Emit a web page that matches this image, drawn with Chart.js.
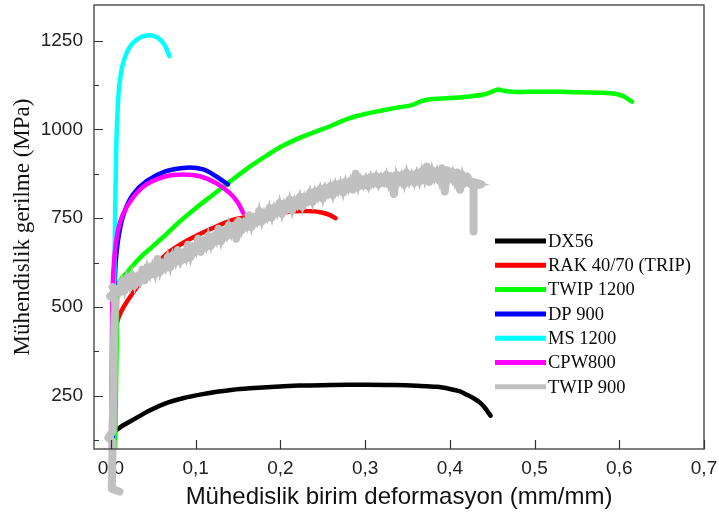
<!DOCTYPE html>
<html><head><meta charset="utf-8">
<script src="https://cdn.jsdelivr.net/npm/chart.js@4/dist/chart.umd.min.js"></script>
<style>html,body{margin:0;padding:0;background:#fff;overflow:hidden}#wrap{width:719px;height:523px;position:relative}</style>
</head><body><div id="wrap"><canvas id="c" width="719" height="523"></canvas></div>
<script>
// ---- data (strain mm/mm, stress MPa) ----
const seriesNames = ['DX56', 'RAK 40/70 (TRIP)', 'TWIP 1200', 'DP 900', 'MS 1200', 'CPW800', 'TWIP 900'];
const xTickValues = [0, 0.1, 0.2, 0.3, 0.4, 0.5, 0.6, 0.7];
const yTickValues = [125, 250, 375, 500, 625, 750, 875, 1000, 1125, 1250];

const dx56 = [[0.002,100],[0.003,125],[0.004,146],[0.012,163],[0.026,182],[0.045,208],[0.066,230],[0.085,243],[0.105,253],[0.125,261],[0.144,267],[0.164,271],[0.184,274],[0.204,277],[0.223,279],[0.26,280],[0.302,281],[0.335,280],[0.361,278],[0.385,275],[0.400,269],[0.412,262],[0.420,253],[0.428,243],[0.436,230],[0.442,214],[0.448,194]];
const rak4070 = [[0.003,100],[0.004,380],[0.006,440],[0.009,470],[0.015,500],[0.026,540],[0.045,600],[0.066,650],[0.085,680],[0.105,705],[0.125,727],[0.144,745],[0.165,755],[0.185,762],[0.205,767],[0.225,770],[0.24,769],[0.25,765],[0.258,759],[0.265,750]];
const twip1200 = [[0.005,100],[0.007,420],[0.009,565],[0.02,600],[0.035,640],[0.05,672],[0.066,706],[0.081,740],[0.1,778],[0.12,815],[0.14,852],[0.16,888],[0.18,920],[0.2,950],[0.22,973],[0.24,992],[0.26,1010],[0.28,1030],[0.3,1043],[0.32,1053],[0.34,1062],[0.355,1068],[0.365,1078],[0.375,1084],[0.4,1088],[0.42,1092],[0.44,1098],[0.45,1106],[0.457,1112],[0.465,1108],[0.48,1105],[0.5,1106],[0.52,1106],[0.54,1105],[0.56,1104],[0.58,1103],[0.595,1100],[0.605,1093],[0.615,1078]];
const dp900 = [[0.002,100],[0.003,400],[0.0043,554],[0.006,639],[0.010,712],[0.016,768],[0.026,816],[0.042,854],[0.065,882],[0.089,892],[0.109,887],[0.124,868],[0.138,845]];
const ms1200 = [[0.001,100],[0.003,450],[0.0043,639],[0.006,920],[0.008,1061],[0.010,1126],[0.014,1183],[0.022,1231],[0.034,1258],[0.046,1265],[0.055,1258],[0.063,1239],[0.069,1206]];
const cpw800 = [[0.000,100],[0.001,350],[0.002,554],[0.004,639],[0.008,712],[0.014,760],[0.026,808],[0.042,845],[0.065,868],[0.085,873],[0.105,868],[0.124,849],[0.140,821],[0.150,793],[0.156,765]];
const twip900 = [[0.000,-10],[0.010,-20],[0.001,-12],[0.002,120],[-0.003,132],[0.002,150],[0.003,300],[0.004,450],[0.005,520],[-0.001,530],[0.006,545],[0.002,556],[0.010,540],
[0.013,570],[0.016,545],[0.019,580],[0.022,558],[0.025,590],[0.028,560],[0.031,585],[0.034,570],[0.037,605],[0.040,575],
[0.043,612],[0.046,590],[0.049,615],[0.052,592],[0.055,635],[0.058,598],[0.061,622],[0.064,608],[0.067,640],[0.070,612],
[0.073,645],[0.076,625],[0.079,660],[0.082,628],[0.085,650],[0.088,635],[0.091,675],[0.094,640],[0.097,668],[0.100,655],
[0.103,692],[0.106,655],[0.109,685],[0.112,668],[0.115,700],[0.118,672],[0.121,698],[0.124,684],[0.127,720],[0.130,685],
[0.133,712],[0.136,698],[0.139,730],[0.142,705],[0.145,725],[0.148,692],[0.151,742],[0.154,715],[0.157,738],[0.160,724],
[0.163,758],[0.166,725],[0.169,750],[0.172,738],[0.175,770],[0.178,740],[0.181,765],[0.184,750],[0.187,778],[0.190,752],
[0.193,780],[0.196,764],[0.199,792],[0.202,762],[0.205,790],[0.208,775],[0.211,802],[0.214,772],[0.217,800],[0.220,785],
[0.223,810],[0.226,782],[0.229,810],[0.232,796],[0.235,822],[0.238,795],[0.241,825],[0.244,808],[0.247,832],[0.250,805],
[0.253,835],[0.256,818],[0.259,840],[0.262,815],[0.265,845],[0.268,826],[0.271,848],[0.274,822],[0.277,852],[0.280,832],
[0.283,855],[0.286,830],[0.289,875],[0.292,838],[0.295,860],[0.298,842],[0.301,862],[0.304,840],[0.307,866],[0.310,848],
[0.313,868],[0.316,845],[0.319,866],[0.322,850],[0.325,872],[0.328,845],[0.331,868],[0.334,818],[0.337,872],[0.340,852],
[0.343,870],[0.346,845],[0.349,878],[0.352,852],[0.355,872],[0.358,850],[0.361,876],[0.364,852],[0.367,882],[0.370,858],
[0.373,895],[0.376,852],[0.379,885],[0.382,862],[0.385,882],[0.388,855],[0.391,890],[0.394,825],[0.397,885],[0.400,862],
[0.403,880],[0.406,852],[0.409,878],[0.412,830],[0.415,872],[0.418,850],[0.421,866],[0.424,846],[0.427,852],[0.437,845],
[0.428,840],[0.428,712]];

const seriesData = [dx56, rak4070, twip1200, dp900, ms1200, cpw800, twip900];
const seriesColors = ['#000000', '#ff0000', '#00ff00', '#0000ff', '#00ffff', '#ff00ff', '#c0c0c0'];

// ---- chart ----
const toXY = arr => arr.map(p => ({x: p[0], y: p[1]}));
const datasets = seriesNames.map((name, i) => {
  const jag = (i === 6);
  return {
    label: name,
    data: toXY(seriesData[i]),
    borderColor: seriesColors[i],
    backgroundColor: seriesColors[i],
    borderWidth: jag ? 4.5 : 4.5,
    tension: jag ? 0 : 0.3,
    showLine: true,
    pointRadius: 0,
    pointHoverRadius: 0,
    fill: false,
    borderJoinStyle: jag ? 'miter' : 'round',
    borderCapStyle: jag ? 'butt' : 'round',
    order: seriesNames.length - i,
    clip: jag ? false : 0
  };
});
// solid core of the noisy TWIP 900 band (same data, drawn thicker with round joins)
datasets.push({
  label: 'TWIP 900 core',
  data: toXY(twip900),
  borderColor: seriesColors[6],
  borderWidth: 8,
  tension: 0,
  showLine: true,
  pointRadius: 0,
  pointHoverRadius: 0,
  fill: false,
  borderJoinStyle: 'round',
  borderCapStyle: 'butt',
  order: 0,
  clip: false
});

const noPad = s => { s.paddingTop = 0; s.paddingBottom = 0; s.paddingLeft = 0; s.paddingRight = 0; };

const framePlugin = {
  id: 'frame',
  beforeDatasetDraw(chart, args) {
    if (args.index === 6) { chart.ctx.save(); chart.ctx.miterLimit = 4.5; }
  },
  afterDatasetDraw(chart, args) {
    if (args.index === 6) { chart.ctx.restore(); }
  },
  afterDatasetsDraw(chart) {
    const {ctx, chartArea: a, scales} = chart;
    ctx.save();
    ctx.strokeStyle = '#555';
    ctx.lineWidth = 1.5;
    ctx.strokeRect(a.left, a.top, a.right - a.left, a.bottom - a.top);
    ctx.strokeStyle = '#333';
    ctx.lineWidth = 1.2;
    ctx.beginPath();
    scales.y.ticks.forEach(t => {
      const y = Math.round(scales.y.getPixelForValue(t.value)) + 0.5;
      const len = (t.value % 250 === 0) ? 9 : 5;
      ctx.moveTo(a.left, y); ctx.lineTo(a.left + len, y);
    });
    scales.x.ticks.forEach(t => {
      const x = Math.round(scales.x.getPixelForValue(t.value)) + 0.5;
      ctx.moveTo(x, a.bottom); ctx.lineTo(x, a.bottom - 9);
    });
    ctx.stroke();
    ctx.restore();
  },
  afterDraw(chart) {
    const {ctx, chartArea: a} = chart;
    const x0 = a.right - 209, y0 = a.top + 236, step = 24.3;
    ctx.save();
    ctx.font = '18.5px "Liberation Serif", "Times New Roman", serif';
    ctx.textBaseline = 'middle';
    ctx.textAlign = 'left';
    seriesNames.forEach((name, i) => {
      const ds = chart.data.datasets[i];
      const y = y0 + i * step;
      ctx.strokeStyle = ds.borderColor;
      ctx.lineWidth = 5;
      ctx.lineCap = 'butt';
      ctx.beginPath(); ctx.moveTo(x0, y); ctx.lineTo(x0 + 51, y); ctx.stroke();
      ctx.fillStyle = '#0a0a0a';
      ctx.fillText(ds.label, x0 + 53, y + 1);
    });
    ctx.restore();
  }
};

new Chart(document.getElementById('c'), {
  type: 'scatter',
  data: {datasets},
  options: {
    responsive: false,
    devicePixelRatio: 1,
    animation: false,
    layout: {padding: {top: 5, right: 15, bottom: 0, left: 0}},
    plugins: {legend: {display: false}, tooltip: {enabled: false}},
    scales: {
      x: {
        type: 'linear', min: -0.02, max: 0.7,
        afterBuildTicks: s => { s.ticks = xTickValues.map(v => ({value: v})); },
        afterFit: s => { s.height = 74; noPad(s); },
        grid: {display: false, drawTicks: false},
        border: {display: false},
        ticks: {
          autoSkip: false, maxRotation: 0, padding: 8, color: '#222',
          font: {family: '"Liberation Sans", Arial, sans-serif', size: 19},
          callback: v => Number(v).toFixed(1).replace('.', ',')
        },
        title: {
          display: true, text: 'Mühedislik birim deformasyon (mm/mm)', color: '#111',
          font: {family: '"Liberation Sans", Arial, sans-serif', size: 24},
          padding: {top: 0, bottom: 11}
        }
      },
      y: {
        type: 'linear', min: 100, max: 1350,
        afterBuildTicks: s => { s.ticks = yTickValues.map(v => ({value: v})); },
        afterFit: s => { s.width = 94; noPad(s); },
        grid: {display: false, drawTicks: false},
        border: {display: false},
        ticks: {
          autoSkip: false, padding: 11, color: '#222',
          font: {family: '"Liberation Sans", Arial, sans-serif', size: 19},
          callback: v => (v % 250 === 0 ? String(v) : '')
        },
        title: {
          display: true, text: 'Mühendislik gerilme (MPa)', color: '#111',
          font: {family: '"Liberation Serif", "Times New Roman", serif', size: 23},
          padding: {top: 9, bottom: 0}
        }
      }
    }
  },
  plugins: [framePlugin]
});
</script></body></html>
